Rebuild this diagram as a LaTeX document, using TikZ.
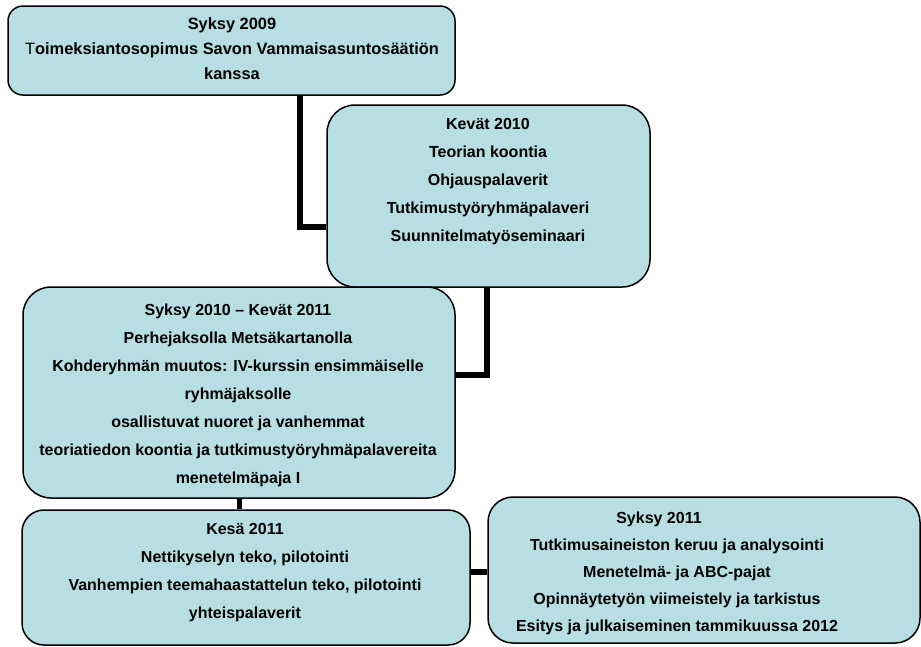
\documentclass[tikz,border=0pt]{standalone}
\usepackage{fontspec}
\setmainfont{Liberation Sans}
\usetikzlibrary{positioning}
\definecolor{boxfill}{HTML}{B7DEE2}
\tikzset{
  box/.style={draw=black, line width=1.5pt, fill=boxfill, rounded corners=#1, inner sep=0pt},
  box/.default=25pt,
  txt/.style={align=center, inner sep=0pt, font=\bfseries\fontsize{16}{28}\selectfont},
  link/.style={line width=6pt, black}
}

\begin{document}
\begin{tikzpicture}[x=1pt, y=-1pt]
\useasboundingbox (0,0) rectangle (921,646);
\node[box=15pt, minimum width=447, minimum height=89] (s2009) at (231.5,50.5) {};
\node[box=28pt, minimum width=323, minimum height=182] (k2010) at (488.5,196) {};
\node[box=28pt, minimum width=432, minimum height=211] (s2010) at (239,392.5) {};
\node[box=22pt, minimum width=448, minimum height=135] (k2011) at (246,577.5) {};
\node[box=25pt, minimum width=432, minimum height=146] (s2011) at (704,570) {};
\coordinate (j1) at (300,227);
\coordinate (j2) at (487,375);
\coordinate (j3) at (239,0);
\coordinate (j4) at (0,572);
\draw[link] (s2009.south -| j1) -- (j1) -- (j1 -| k2010.west);
\draw[link] (k2010.south -| j2) -- (j2) -- (j2 -| s2010.east);
\draw[link, line width=5pt] (s2010.south -| j3) -- (k2011.north -| j3);
\draw[link] (k2011.east |- j4) -- (s2011.west |- j4);
\node[txt, font=\bfseries\fontsize{16.4}{25}\selectfont] (t2009) at (232,49)
  {Syksy 2009\\ {\mdseries T}oimeksiantosopimus Savon Vammaisasuntosäätiön\\ kanssa};
\node[txt] (t2010) at (488,181.5)
  {Kevät 2010\\ Teorian koontia\\ Ohjauspalaverit\\ Tutkimustyöryhmäpalaveri\\ Suunnitelmatyöseminaari};
\node[txt] (t2010b) at (238,395)
  {Syksy 2010 – Kevät 2011\\ Perhejaksolla Metsäkartanolla\\ Kohderyhmän muutos: IV-kurssin ensimmäiselle\\ ryhmäjaksolle\\ osallistuvat nuoret ja vanhemmat\\ teoriatiedon koontia ja tutkimustyöryhmäpalavereita\\ menetelmäpaja I};
\node[txt] (t2011k) at (245,572.5)
  {Kesä 2011\\ Nettikyselyn teko, pilotointi\\ Vanhempien teemahaastattelun teko, pilotointi\\ yhteispalaverit};
\node[txt, font=\bfseries\fontsize{16}{27}\selectfont] (t2011s) at (677,573)
  {Syksy 2011\hspace*{36pt}\\ Tutkimusaineiston keruu ja analysointi\\ Menetelmä- ja ABC-pajat\\ Opinnäytetyön viimeistely ja tarkistus\\ Esitys ja julkaiseminen tammikuussa 2012};
\end{tikzpicture}
\end{document}
